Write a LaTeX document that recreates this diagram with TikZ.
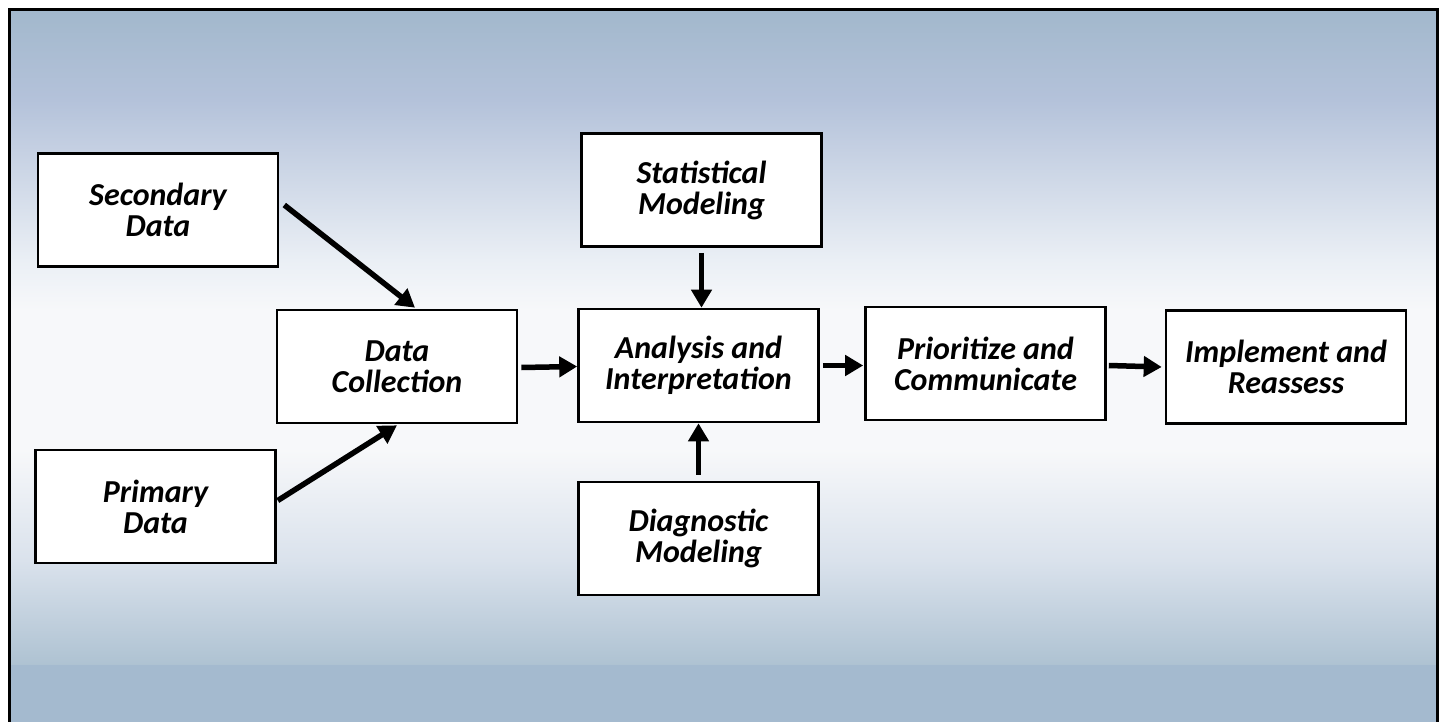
\documentclass[tikz,border=0pt]{standalone}
\usepackage{fontspec}
\setmainfont{Carlito}
\usetikzlibrary{arrows.meta}
\definecolor{bgA}{RGB}{162,184,204}
\definecolor{bgB}{RGB}{180,194,218}
\definecolor{bgC}{RGB}{234,239,245}
\definecolor{bgD}{RGB}{247,248,250}
\definecolor{bgE}{RGB}{218,226,236}
\definecolor{bgF}{RGB}{174,194,210}
\definecolor{bgG}{RGB}{164,186,207}
\begin{document}
\begin{tikzpicture}[x=1pt,y=-1pt,
  box/.style={draw=black, line width=2.6pt, fill=white, minimum width=240pt, minimum height=113pt,
    align=center, inner sep=0pt, font=\fontsize{32}{31}\selectfont\bfseries\itshape},
  arr/.style={line width=5.5pt, -{Triangle[length=18pt,width=20pt]}}]
\useasboundingbox (0,0) rectangle (1442,722);
\fill[white] (0,0) rectangle (1442,722);
% background gradient bands
\shade[top color=bgA, bottom color=bgB] (9,10) rectangle (1437,100);
\shade[top color=bgB, bottom color=bgC] (9,100) rectangle (1437,260);
\shade[top color=bgC, bottom color=bgD] (9,260) rectangle (1437,310);
\fill[bgD] (9,310) rectangle (1437,450);
\shade[top color=bgD, bottom color=bgE] (9,450) rectangle (1437,560);
\shade[top color=bgE, bottom color=bgF] (9,560) rectangle (1437,665);
\fill[bgG] (9,665) rectangle (1437,722);
% frame
\draw[line width=3pt] (9,722) -- (9,10) -- (1437,10) -- (1437,722);
% boxes
\node[box] (sec)  at (158,210)   {Secondary\\Data};
\node[box] (pri)  at (155.5,506.5) {Primary\\Data};
\node[box] (dc)   at (397,366.5) {Data\\Collection};
\node[box] (stat) at (701.5,190) {Statistical\\Modeling};
\node[box] (ana)  at (698.5,365.5) {Analysis and\\Interpretation};
\node[box] (diag) at (698.5,538.5) {Diagnostic\\Modeling};
\node[box] (pc)   at (985.5,363.5) {Prioritize and\\Communicate};
\node[box] (imp)  at (1286,367)  {Implement and\\Reassess};
% arrows
\draw[arr] ([xshift=5pt,yshift=5pt]sec.east) -- ([xshift=18pt,yshift=1pt]dc.north);
\draw[arr] ([xshift=1pt,yshift=6pt]pri.east) -- ([yshift=-1pt]dc.south);
\draw[arr] ([xshift=3pt,yshift=-1pt]dc.east) -- ([yshift=-1pt]ana.west);
\draw[arr] ([yshift=-5pt]stat.south) -- (stat.south |- ana.north);
\draw[arr] ([yshift=6pt]diag.north) -- (diag.north |- ana.south);
\draw[arr] ([xshift=3pt]ana.east) -- ([xshift=-1pt,yshift=-2pt]pc.west);
\draw[arr] ([xshift=2pt,yshift=-2pt]pc.east) -- ([xshift=-3pt]imp.west);
\end{tikzpicture}
\end{document}
